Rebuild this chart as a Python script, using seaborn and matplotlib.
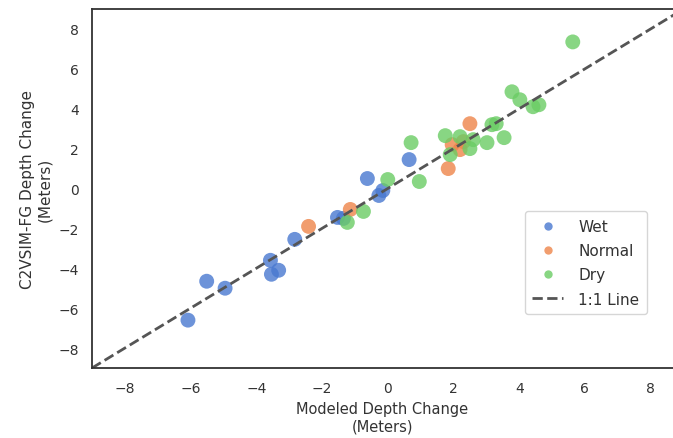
import numpy as np
import pandas as pd
import matplotlib
matplotlib.use("Agg")
import matplotlib.pyplot as plt
import seaborn as sns

wet_x = [-6.08, -5.51, -4.95, -3.57, -3.54, -3.32, -2.83, -1.53, -1.35, -0.62, -0.27, -0.15, 0.65]
wet_y = [-6.6, -4.65, -5.0, -3.6, -4.3, -4.1, -2.55, -1.45, -1.5, 0.5, -0.35, -0.1, 1.45]
normal_x = [-2.41, -1.14, 1.84, 1.96, 2.2, 2.3, 2.5]
normal_y = [-1.9, -1.05, 1.0, 2.2, 1.95, 2.35, 3.25]
dry_x = [-1.23, -0.74, 0.0, 0.71, 0.96, 1.75, 1.9, 2.2, 2.5, 2.6, 3.02, 3.17, 3.3, 3.54, 3.78, 4.02, 4.42, 4.6, 5.63]
dry_y = [-1.7, -1.15, 0.45, 2.3, 0.35, 2.65, 1.7, 2.6, 2.0, 2.45, 2.3, 3.2, 3.25, 2.55, 4.85, 4.45, 4.1, 4.2, 7.35]
categories = ["Wet", "Normal", "Dry"]
line_ends = [-9, 9]

df = pd.concat([
    pd.DataFrame({"x": wet_x, "y": wet_y, "Year Type": "Wet"}),
    pd.DataFrame({"x": normal_x, "y": normal_y, "Year Type": "Normal"}),
    pd.DataFrame({"x": dry_x, "y": dry_y, "Year Type": "Dry"}),
])

sns.set_theme(style="white")
plt.rcParams["font.family"] = ["DejaVu Sans"]

fig = plt.figure(figsize=(6.73, 4.39), dpi=100)
ax = fig.add_axes([92/673, 1-369/439, 1-92/673, 359/439])

sns.scatterplot(data=df, x="x", y="y", hue="Year Type", hue_order=categories,
                palette="muted", s=115, alpha=0.8, linewidth=0, ax=ax)
ax.plot(line_ends, line_ends, linestyle="--", color="#555555", lw=2, label="1:1 Line")

ax.set_xlim(-9, 8.68)
ax.set_ylim(-9, 9)
ax.set_xticks(np.arange(-8, 9, 2))
ax.set_yticks(np.arange(-8, 9, 2))
ax.tick_params(labelsize=10, colors="#333333")
ax.set_xlabel("Modeled Depth Change\n(Meters)", fontsize=10.5, color="#333333")
ax.set_ylabel("C2VSIM-FG Depth Change\n(Meters)", fontsize=11, color="#333333")
for side in ["left", "top", "bottom"]:
    ax.spines[side].set_color("#333333")
    ax.spines[side].set_linewidth(1.3)
ax.spines["right"].set_visible(False)

handles, labels = ax.get_legend_handles_labels()
leg = ax.legend(handles, labels, loc="lower right", bbox_to_anchor=(0.955, 0.15),
                borderaxespad=0, fontsize=11, frameon=True, labelspacing=0.6,
                handletextpad=1.0, borderpad=0.5)
for h in leg.legend_handles:
    if h.get_marker() not in (None, "None", ""):
        h.set_markersize(6)
for t in leg.get_texts():
    t.set_color("#333333")

fig.savefig("out.png", dpi=100)
